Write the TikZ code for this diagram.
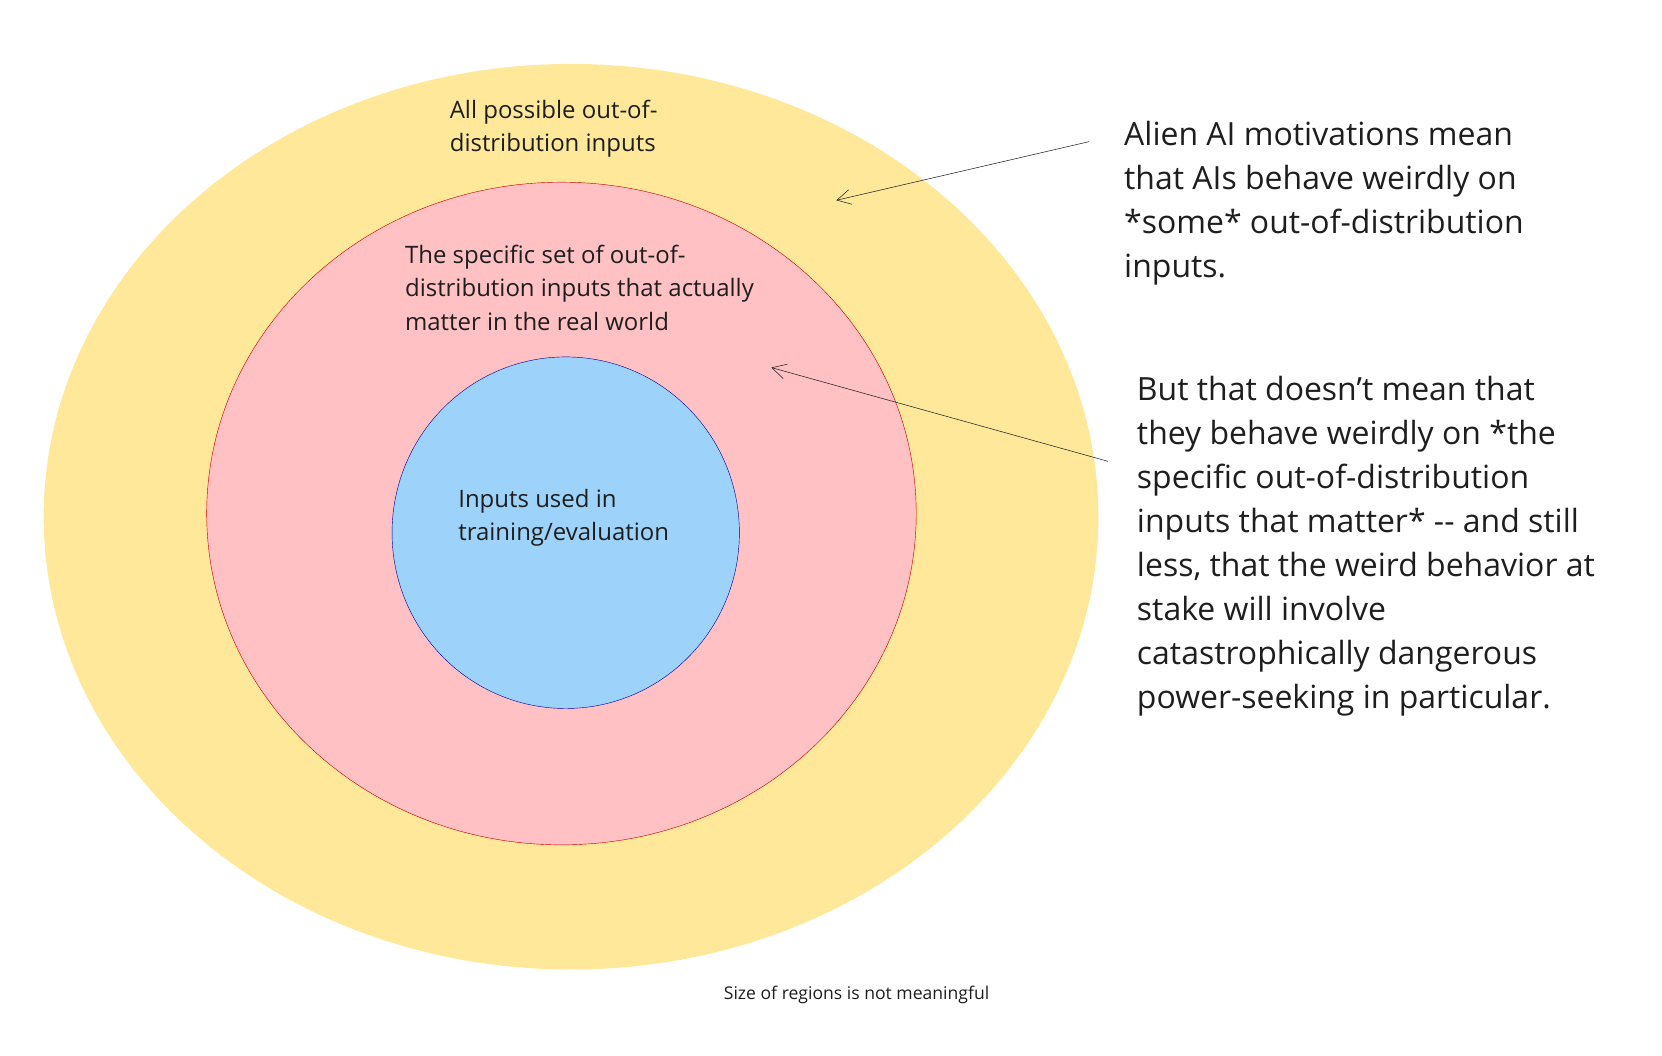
\documentclass[tikz,border=0pt]{standalone}
\usepackage{fontspec}
\setmainfont{Open Sans}
\usetikzlibrary{arrows.meta}
\definecolor{yel}{HTML}{FFE89A}
\definecolor{pnk}{HTML}{FFC1C4}
\definecolor{blu}{HTML}{9DD3FA}
\definecolor{txt}{HTML}{1E1E1E}
\begin{document}
\begin{tikzpicture}[x=1pt,y=-1pt,
  lbl/.style={anchor=base west,align=left,inner sep=0pt,text=txt,font=\fontsize{22.5}{31.5}\selectfont},
  big/.style={anchor=base west,align=left,inner sep=0pt,text=txt,font=\fontsize{30}{41.3}\selectfont},
  conn/.style={line width=0.5pt,draw=txt,-{Straight Barb[length=13pt,width=14pt,line width=0.5pt]}}]
\useasboundingbox (0,0) rectangle (1560,991);
\fill[yel] (536,485) ellipse [x radius=495,y radius=425];
\filldraw[fill=pnk,draw=red!80!black,line width=0.4pt] (527,482) ellipse [x radius=333,y radius=311];
\filldraw[fill=blu,draw=blue!60!black,line width=0.4pt] (531,500) ellipse [x radius=163,y radius=165];
\node[lbl] (all) at (422,142.5) {All possible out-of-\\distribution inputs};
\node[lbl] (spec) at (380,310) {The specific set of out-of-\\distribution inputs that actually\\matter in the real world};
\node[lbl] (train) at (430,507.5) {Inputs used in\\training/evaluation};
\node[big] (t1) at (1055,260) {Alien AI motivations mean\\that AIs behave weirdly on\\*some* out-of-distribution\\inputs.};
\node[big] (t2) at (1067,665) {But that doesn't mean that\\they behave weirdly on *the\\specific out-of-distribution\\inputs that matter* -{}- and still\\less, that the weird behavior at\\stake will involve\\catastrophically dangerous\\power-seeking in particular.};
\node[anchor=base,inner sep=0pt,text=txt,font=\fontsize{16.5}{19}\selectfont] (foot) at (804,938) {Size of regions is not meaningful};
\coordinate (a1s) at (1022,133);
\coordinate (a1e) at (785,188);
\coordinate (a2s) at (1040,433);
\coordinate (a2e) at (724,345);
\draw[conn] (a1s) -- (a1e);
\draw[conn] (a2s) -- (a2e);
\end{tikzpicture}
\end{document}
